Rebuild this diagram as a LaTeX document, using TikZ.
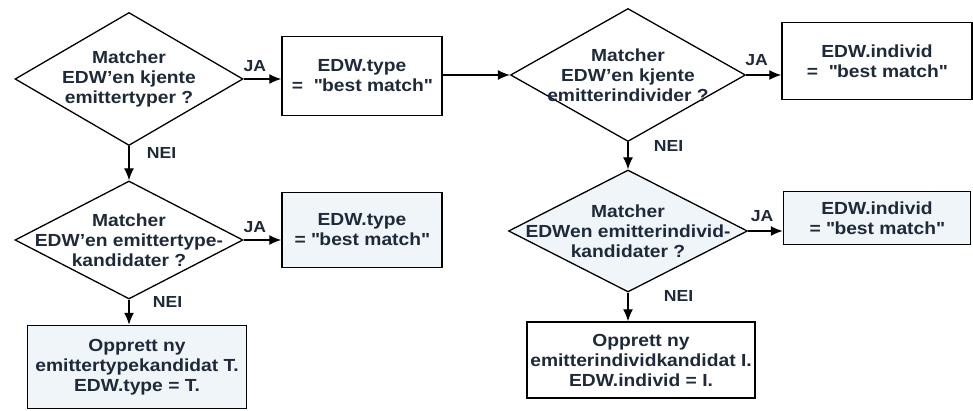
\documentclass[tikz,border=0pt]{standalone}
\usepackage{fontspec}
\setmainfont{Liberation Sans}[FakeStretch=1.1]
\usetikzlibrary{arrows.meta}
\usetikzlibrary{shapes.geometric}
\definecolor{ink}{HTML}{1E2A3A}
\definecolor{tint}{HTML}{F0F5FA}
\newcommand*\q[1]{\textquotedbl#1\textquotedbl}

\begin{document}
\begin{tikzpicture}[
	x=1pt, y=-1pt,
	>={Latex[length=12pt,width=10pt]},
	every node/.style={font=\fontsize{17.5}{20}\selectfont\bfseries, text=ink},
	dia/.style={draw, line width=1.3pt, shape=diamond, aspect=1.75, inner sep=-20pt, align=center},
	box/.style={draw, line width=1.5pt, rectangle, align=center, inner sep=0pt},
	flow/.style={->, line width=1.3pt},
	tag/.style={font=\fontsize{16}{16}\selectfont\bfseries}]

	\useasboundingbox (0,0) rectangle (973,411);

	% left column: emittertype
	\node[dia, minimum width=228, minimum height=133] (d1) at (129,79)
		{Matcher\\EDW'en kjente\\emittertyper ?};
	\node[box, minimum width=160, minimum height=79] (b1) at (362,76)
		{EDW.type\\= \ \q{best match}};
	\node[dia, minimum width=228, minimum height=118] (d2) at (129,240)
		{Matcher\\EDW'en emittertype-\\kandidater ?};
	\node[box, fill=tint, minimum width=160, minimum height=75] (b2) at (362,230)
		{EDW.type\\= \q{best match}};
	\node[box, fill=tint, minimum width=219, minimum height=83] (b3) at (137,367)
		{Opprett ny\\emittertypekandidat T.\\EDW.type = T.};

	% right column: emitterindivid
	\node[dia, minimum width=235, minimum height=133] (d3) at (628,75)
		{Matcher\\EDW'en kjente\\emitterindivider ?};
	\node[box, minimum width=190, minimum height=77] (b4) at (877,61)
		{EDW.individ\\= \ \q{best match}};
	\node[dia, fill=tint, minimum width=239, minimum height=122] (d4) at (628,231)
		{Matcher\\EDWen emitterindivid-\\kandidater ?};
	\node[box, fill=tint, minimum width=187, minimum height=53] (b5) at (877,218)
		{EDW.individ\\= \q{best match}};
	\node[box, minimum width=228, minimum height=76] (b6) at (641,360)
		{Opprett ny\\emitterindividkandidat I.\\EDW.individ = I.};

	\draw[flow] (d1.east) -- (d1.east -| b1.west) node[tag, pos=0.3, above=3pt] {JA};
	\draw[flow] (d1.south) -- (d2.north) node[tag, pos=0.2, right=14pt] {NEI};
	\draw[flow] (d2.east) -- (d2.east -| b2.west) node[tag, pos=0.3, above=3pt] {JA};
	\draw[flow] (d2.south) -- (d2.south |- b3.north) node[tag, pos=0.1, right=20pt] {NEI};

	\draw[flow] (b1.east |- d3.west) -- (d3.west);
	\draw[flow] (d3.east) -- (d3.east -| b4.west) node[tag, pos=0.3, above=5pt] {JA};
	\draw[flow] (d3.south) -- (d4.north) node[tag, pos=0.15, right=22pt] {NEI};
	\draw[flow] (d4.east) -- (d4.east -| b5.west) node[tag, pos=0.4, above=5pt] {JA};
	\draw[flow] (d4.south) -- (d4.south |- b6.north) node[tag, pos=0.1, right=32pt] {NEI};

\end{tikzpicture}
\end{document}
